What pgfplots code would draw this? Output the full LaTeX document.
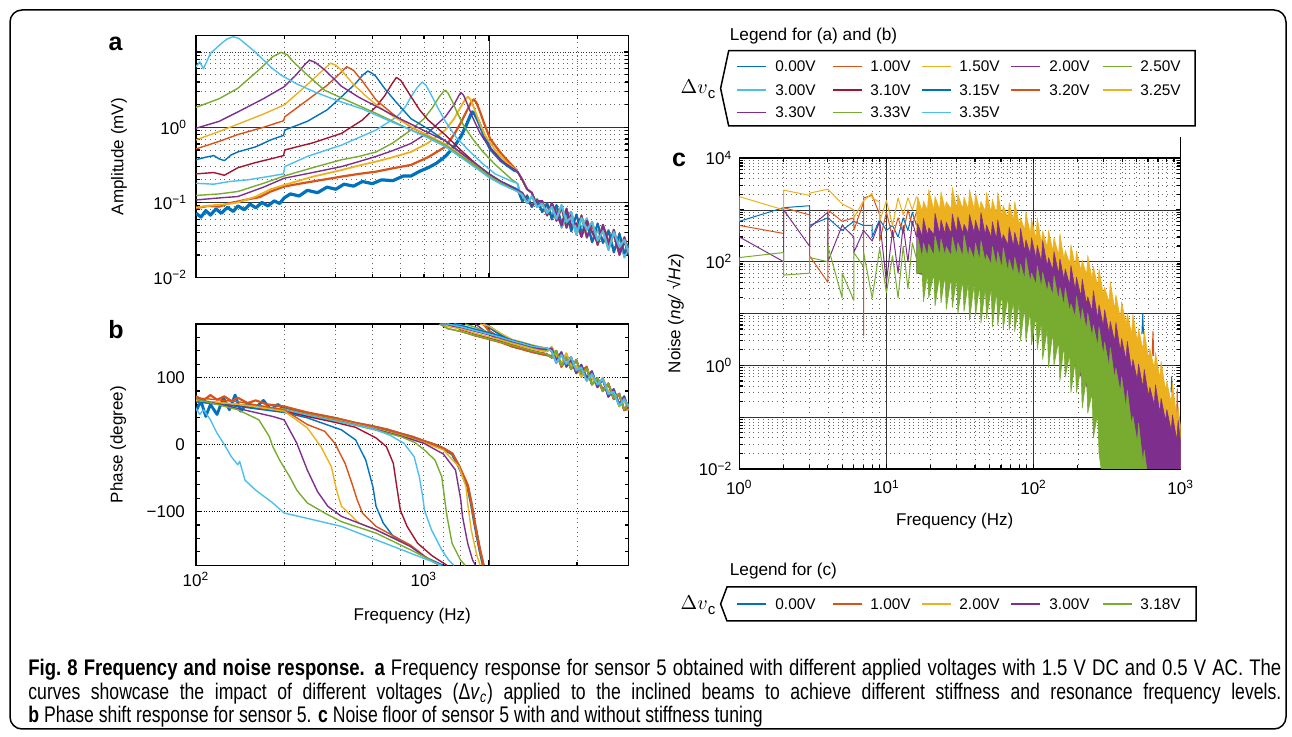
\documentclass[border=0pt]{standalone}
\usepackage{pgfplots}
\pgfplotsset{compat=1.18}
\usepackage{pgfplotstable}
\usepackage{fontspec}
\setmainfont{Liberation Sans}
\newfontfamily\capfont[FakeStretch=0.78]{Liberation Sans}
\newfontfamily\capfontA[FakeStretch=0.82]{Liberation Sans}
\definecolor{mb}{rgb}{0,0.447,0.741}
\definecolor{mo}{rgb}{0.85,0.325,0.098}
\definecolor{my}{rgb}{0.929,0.694,0.125}
\definecolor{mp}{rgb}{0.494,0.184,0.556}
\definecolor{mg}{rgb}{0.466,0.674,0.188}
\definecolor{mc}{rgb}{0.301,0.745,0.933}
\definecolor{mr}{rgb}{0.635,0.078,0.184}
\newcommand{\legfont}{\fontsize{7.7}{9}\selectfont}
\newcommand{\legent}[5]{\draw[#1, line width=0.65pt] (#2,#4) -- ++(29,0); \node[anchor=west, inner sep=0pt, font=\legfont] at (#3,#4) {#5};}
\pgfplotstableread{
f t1 t2 t3 t4 t5
1250 0.26 0.15 0.14 0.18 0.145
1300 0.2 0.103 0.1264 0.1076 0.1346
1350 0.15 0.1243 0.0981 0.1199 0.1036
1400 0.135 0.0877 0.1204 0.0867 0.0918
1460 0.0921 0.1086 0.0868 0.1114 0.1038
1520 0.1 0.0745 0.0964 0.0788 0.1051
1580 0.0672 0.0984 0.0722 0.0886 0.0697
1640 0.095 0.0593 0.0874 0.0684 0.0988
1700 0.057 0.0926 0.0605 0.0854 0.0712
1770 0.0858 0.0528 0.0924 0.0462 0.0495
1840 0.0461 0.0769 0.0554 0.0677 0.083
1910 0.069 0.0414 0.0633 0.0748 0.0489
1990 0.0426 0.0692 0.0372 0.0426 0.0532
2070 0.0668 0.0396 0.0619 0.047 0.0347
2160 0.0342 0.0547 0.0433 0.0616 0.057
2250 0.0529 0.0296 0.055 0.0296 0.0402
2350 0.0273 0.0527 0.0312 0.0429 0.0293
2450 0.0471 0.029 0.0416 0.0308 0.0507
2560 0.0267 0.0418 0.0234 0.0434 0.0301
2670 0.0434 0.0217 0.0403 0.0233 0.0372
2790 0.0215 0.0386 0.0257 0.0343 0.02
2900 0.0345 0.0212 0.0318 0.0186 0.0305
3000 0.0224 0.0274 0.0212 0.0249 0.0199
}\ampTail
\pgfplotstableread{
f p1 p2 p3 p4 p5
1580 142 135 144 133 139
1640 143.6 129.6 139.6 132.6 145.6
1700 126 140 122 138 132
1770 138 118 134 116 121
1840 116.2 130.2 120.2 128.2 136.2
1910 126.5 112.5 130.5 129.5 116.5
1990 106.5 126.5 110.5 108.5 117.5
2070 119.2 105.2 115.2 109.2 101.2
2160 99.3 113.3 95.3 116.3 112.3
2250 109.6 89.6 105.6 90.6 100.6
2350 85.6 99.6 89.6 96.6 85.6
2450 97.8 79.8 97.8 82.8 99.8
2560 71.4 91.4 75.4 90.4 78.4
2670 82.9 68.9 78.9 67.9 81.9
2790 60.1 76.1 58.1 74.1 57.1
2900 72.2 52.2 68.2 51.2 67.2
3000 53 61 57 54 51
}\phTail
\pgfplotsset{
  mat/.style={scale only axis, axis line style={line width=0.75pt},
    tick align=inside, xtick pos=both, ytick pos=both,
    major tick length=2.6pt, minor tick length=1.8pt,
    every tick/.style={black, line width=0.6pt},
    tick label style={font=\fontsize{8.5}{10}\selectfont},
    label style={font=\fontsize{8.5}{10}\selectfont},
    major grid style={line width=0.3pt, black!80},
    minor grid style={line width=0.35pt, dotted, black!60},
    every axis plot/.append style={line join=round, line width=0.7pt}},
  tail/.style={line width=0.9pt},
}
\begin{document}
\begin{tikzpicture}
\useasboundingbox (0pt,0pt) rectangle (646pt,-368.5pt);

% ---------------- panel a ----------------
\begin{axis}[mat, at={(98pt,-17.85pt)}, anchor=north west, width=216.35pt, height=121pt,
  xmode=log, ymode=log, xmin=100, xmax=3000, ymin=0.01, ymax=16.5,
  xtick={1000}, xticklabels={}, minor xtick={200,300,400,500,600,700,800,900,2000},
  ytick={0.01,0.1,1}, yticklabels={10\textsuperscript{−2},10\textsuperscript{−1},10\textsuperscript{0}},
  minor ytick={0.02,0.03,0.04,0.05,0.06,0.07,0.08,0.09,0.2,0.3,0.4,0.5,0.6,0.7,0.8,0.9,2,3,4,5,6,7,8,9},
  extra y ticks={10}, extra y tick labels={}, extra y tick style={grid=major, major grid style={densely dotted, black!80, line width=0.4pt}},
  xmajorgrids, ymajorgrids, xminorgrids, yminorgrids,
  ylabel={Amplitude (mV)}, ylabel style={at={(axis description cs:-0.178,0.5)}, anchor=center},
  yticklabel style={xshift=-1pt}]
\addplot[mb, line width=1.6pt] coordinates {(100,0.072)(104,0.064)(108,0.078)(112,0.068)(117,0.082)(122,0.072)(128,0.086)(134,0.076)(139,0.09)(146,0.08)(153,0.095)(160,0.085)(168,0.1)(176,0.09)(185,0.105)(193,0.097)(200,0.115)(210,0.13)(225,0.122)(240,0.145)(260,0.135)(280,0.16)(300,0.15)(320,0.175)(345,0.165)(370,0.19)(400,0.178)(430,0.2)(470,0.195)(510,0.225)(542,0.225)(580,0.26)(620,0.29)(660,0.33)(710,0.41)(760,0.55)(802,0.75)(840,1.1)(865,1.45)(878,1.6)(895,1.5)(920,1.2)(960,0.8)(1010,0.52)(1100,0.36)(1218,0.27)(1250,0.26)};
\addplot[mb, tail] table[x=f,y=t1]{\ampTail};
\addplot[mo, line width=1.1pt] coordinates {(100,0.084)(110,0.09)(120,0.088)(130,0.098)(139,0.103)(150,0.11)(165,0.118)(180,0.14)(200,0.163)(230,0.18)(260,0.195)(314,0.221)(360,0.24)(412,0.257)(470,0.285)(542,0.316)(620,0.4)(710,0.55)(760,0.8)(802,1.15)(840,1.65)(870,2.15)(887,2.35)(905,2.15)(930,1.65)(965,1.1)(1010,0.7)(1100,0.45)(1200,0.31)(1250,0.26)};
\addplot[mo, tail] table[x=f,y=t1]{\ampTail};
\addplot[my, line width=0.9pt] coordinates {(100,0.086)(115,0.092)(130,0.096)(139,0.1)(160,0.12)(180,0.15)(200,0.171)(250,0.22)(314,0.27)(360,0.31)(412,0.35)(470,0.4)(542,0.47)(620,0.62)(710,0.92)(760,1.3)(800,1.85)(830,2.35)(847,2.55)(865,2.35)(890,1.8)(925,1.2)(970,0.78)(1050,0.5)(1150,0.34)(1250,0.26)};
\addplot[my, tail] table[x=f,y=t1]{\ampTail};
\addplot[mp] coordinates {(100,0.108)(120,0.115)(139,0.12)(170,0.16)(200,0.21)(250,0.25)(314,0.3)(360,0.35)(412,0.41)(470,0.49)(542,0.61)(620,0.85)(710,1.38)(760,2.0)(790,2.65)(802,2.9)(820,2.65)(845,2.0)(880,1.35)(930,0.85)(1000,0.55)(1100,0.36)(1250,0.26)};
\addplot[mp, tail] table[x=f,y=t1]{\ampTail};
\addplot[mg] coordinates {(100,0.124)(120,0.13)(139,0.14)(170,0.18)(200,0.225)(250,0.29)(314,0.37)(360,0.41)(412,0.47)(470,0.62)(542,0.92)(600,1.3)(640,1.8)(675,2.5)(700,3.0)(710,3.1)(725,2.85)(750,2.2)(780,1.55)(820,1.05)(880,0.7)(950,0.48)(1050,0.32)(1200,0.2)(1250,0.18)};
\addplot[mg, tail] table[x=f,y=t4]{\ampTail};
\addplot[mc] coordinates {(100,0.18)(115,0.175)(130,0.19)(150,0.2)(175,0.22)(199,0.24)(201,0.3)(240,0.41)(314,0.58)(412,0.92)(485,1.38)(520,1.9)(542,2.55)(570,3.4)(592,4.0)(610,3.6)(635,2.7)(670,1.8)(710,1.2)(770,0.75)(850,0.5)(950,0.33)(1050,0.24)(1200,0.19)(1250,0.18)};
\addplot[mc, tail] table[x=f,y=t4]{\ampTail};
\addplot[mr] coordinates {(100,0.24)(115,0.25)(125,0.23)(139,0.29)(160,0.34)(180,0.38)(199,0.42)(201,0.5)(250,0.62)(314,0.83)(370,1.25)(412,1.88)(440,2.6)(465,3.7)(483,4.6)(500,4.2)(520,3.3)(542,2.55)(580,1.7)(620,1.25)(710,0.79)(800,0.5)(900,0.33)(1000,0.24)(1100,0.19)(1250,0.15)};
\addplot[mr, tail] table[x=f,y=t2]{\ampTail};
\addplot[mb] coordinates {(100,0.37)(108,0.4)(115,0.42)(120,0.38)(125,0.36)(132,0.43)(139,0.47)(160,0.55)(180,0.68)(199,0.78)(201,0.92)(240,1.2)(280,1.7)(314,2.55)(350,3.8)(370,4.9)(386,5.6)(400,5.2)(412,4.7)(440,3.3)(480,2.2)(542,1.3)(620,0.95)(710,0.66)(800,0.46)(900,0.32)(1000,0.24)(1100,0.19)(1250,0.15)};
\addplot[mb, tail] table[x=f,y=t2]{\ampTail};
\addplot[mo] coordinates {(100,0.515)(120,0.65)(139,0.8)(170,1.0)(199,1.22)(201,1.38)(240,2.3)(280,3.6)(305,4.9)(327,6.4)(345,5.7)(370,4.1)(412,2.3)(470,1.5)(542,1.0)(620,0.78)(710,0.58)(800,0.42)(900,0.3)(1000,0.225)(1100,0.18)(1250,0.145)};
\addplot[mo, tail] table[x=f,y=t5]{\ampTail};
\addplot[my] coordinates {(100,0.68)(120,0.88)(139,1.1)(170,1.5)(200,1.98)(240,3.7)(265,5.3)(288,7.1)(300,6.7)(314,5.7)(345,3.7)(380,2.6)(412,2.0)(470,1.4)(542,1.02)(620,0.78)(710,0.6)(800,0.43)(900,0.31)(1000,0.225)(1100,0.18)(1250,0.14)};
\addplot[my, tail] table[x=f,y=t3]{\ampTail};
\addplot[mp] coordinates {(100,0.97)(120,1.2)(139,1.6)(170,2.4)(200,3.46)(220,5.0)(235,6.8)(244,7.8)(255,7.3)(275,5.8)(314,3.5)(360,2.5)(412,1.9)(470,1.45)(542,1.1)(620,0.85)(710,0.66)(800,0.46)(900,0.33)(1000,0.24)(1100,0.19)(1250,0.145)};
\addplot[mp, tail] table[x=f,y=t5]{\ampTail};
\addplot[mg] coordinates {(100,1.84)(120,2.4)(139,3.3)(164,5.8)(183,8.7)(195,9.9)(205,9.2)(215,7.4)(240,4.95)(275,3.1)(314,2.45)(412,1.53)(542,0.92)(620,0.75)(710,0.58)(800,0.42)(900,0.31)(1000,0.225)(1100,0.18)(1250,0.14)};
\addplot[mg, tail] table[x=f,y=t3]{\ampTail};
\addplot[mc] coordinates {(100,6.4)(103,7.4)(106,6.0)(112,9.6)(122,13)(128,15)(134,16)(140,15.2)(147,13)(158,10.3)(168,8.2)(180,6.3)(195,4.95)(220,3.8)(253,2.97)(300,2.3)(370,1.75)(450,1.25)(542,0.92)(620,0.72)(710,0.55)(800,0.4)(900,0.29)(1000,0.215)(1100,0.175)(1250,0.14)};
\addplot[mc, tail] table[x=f,y=t3]{\ampTail};
\end{axis}

% ---------------- panel b ----------------
\begin{axis}[mat, at={(98pt,-162pt)}, anchor=north west, width=216.25pt, height=120.65pt,
  xmode=log, xmin=100, xmax=3000, ymin=-180, ymax=180, unbounded coords=jump,
  xtick={1000}, xticklabels={}, minor xtick={200,300,400,500,600,700,800,900,2000},
  extra x ticks={100,600}, extra x tick labels={10\textsuperscript{2},10\textsuperscript{3}}, extra x tick style={grid=none},
  ytick={-100,0,100}, yticklabels={−100,0,100},
  minor ytick={-160,-140,-120,-80,-60,-40,-20,20,40,60,80,120,140,160},
  extra y ticks={-100,0,100}, extra y tick labels={}, extra y tick style={grid=major, major grid style={densely dotted, black, line width=0.4pt}},
  xmajorgrids, xminorgrids,
  ylabel={Phase (degree)}, ylabel style={at={(axis description cs:-0.18,0.5)}, anchor=center},
  xlabel={Frequency (Hz)}, xlabel style={at={(axis description cs:0.5,-0.21)}, anchor=center},
  yticklabel style={xshift=-2pt}]
\addplot[mb, line width=1.4pt] coordinates {(100,50)(104,65)(108,42)(112,60)(118,45)(124,70)(130,52)(136,74)(142,50)(150,62)(160,55)(170,66)(180,52)(190,60)(200,54)(240,47)(300,39)(350,32)(400,27)(450,22)(500,16)(550,11)(600,5)(650,0)(700,-6)(750,-14)(791,-33)(847,-63)(871,-88)(894,-117)(931,-157)(957,-180)(957,nan)(957,180)(1000,176)(1100,164)(1200,155)(1300,151)(1400,147)(1500,144)(1580,142)};
\addplot[mb, tail] table[x=f,y=p1]{\phTail};
\addplot[mo, line width=1.1pt] coordinates {(100,72)(106,66)(112,74)(118,67)(125,72)(132,65)(139,70)(150,62)(160,66)(175,60)(200,57)(240,48)(300,39.5)(350,32.5)(400,27.5)(450,22.5)(500,16.5)(550,11.5)(600,5.5)(650,0.5)(700,-5.5)(750,-13)(791,-31)(847,-60)(871,-86)(894,-115)(931,-155)(960,-180)(960,nan)(960,180)(1000,170)(1100,158)(1200,149)(1300,144)(1400,140)(1500,137)(1580,135)};
\addplot[mo, tail] table[x=f,y=p2]{\phTail};
\addplot[my] coordinates {(100,66)(139,60)(200,53)(240,45)(300,37)(400,25)(500,14)(600,3)(700,-8)(791,-33)(836,-63)(847,-88)(871,-127)(910,-165)(935,-180)(935,nan)(935,180)(1000,177)(1100,166)(1200,157)(1300,153)(1400,149)(1500,146)(1580,144)};
\addplot[my, tail] table[x=f,y=p3]{\phTail};
\addplot[mp] coordinates {(100,65)(139,59)(200,52)(240,44)(300,36)(400,24)(500,13)(600,2)(700,-14)(770,-38)(802,-82)(813,-107)(847,-147)(880,-172)(900,-180)(900,nan)(900,180)(1000,165)(1100,154)(1200,146)(1300,142)(1400,138)(1500,135)(1580,133)};
\addplot[mp, tail] table[x=f,y=p4]{\phTail};
\addplot[mg] coordinates {(100,66)(139,60)(200,52)(240,44)(300,36)(400,23)(500,12)(560,3)(603,-8)(655,-23)(691,-48)(710,-88)(720,-107)(749,-147)(800,-172)(830,-180)(830,nan)(830,180)(900,175)(1000,167)(1100,159)(1200,152)(1300,148)(1400,144)(1500,141)(1580,139)};
\addplot[mg, tail] table[x=f,y=p5]{\phTail};
\addplot[mc] coordinates {(100,65)(139,59)(200,52)(240,44)(300,35)(400,24)(460,14)(513,2)(556,-18)(579,-48)(595,-78)(603,-98)(637,-127)(691,-157)(729,-172)(760,-180)(760,nan)(760,180)(800,179)(900,172)(1000,166)(1100,160)(1200,154)(1300,150)(1400,146)(1500,143)(1580,142)};
\addplot[mc, tail] table[x=f,y=p1]{\phTail};
\addplot[mr] coordinates {(100,64)(139,58)(200,50)(240,42)(300,33)(350,26)(412,10)(447,-3)(472,-28)(485,-63)(499,-98)(526,-122)(571,-147)(637,-165)(673,-172)(720,-180)(720,nan)(720,180)(800,172)(900,165)(1000,159)(1100,154)(1200,148)(1300,144)(1400,140)(1500,137)(1580,135)};
\addplot[mr, tail] table[x=f,y=p2]{\phTail};
\addplot[mb] coordinates {(100,64)(139,57)(200,48)(240,40)(314,22)(351,7)(380,-23)(402,-63)(412,-92)(436,-117)(472,-137)(541,-152)(603,-167)(660,-175)(700,-180)(700,nan)(700,180)(800,178)(900,172)(1000,167)(1100,162)(1200,156)(1300,152)(1400,148)(1500,145)(1580,144)};
\addplot[mb, tail] table[x=f,y=p3]{\phTail};
\addplot[mo] coordinates {(100,70)(139,64)(200,52)(240,30)(275,20)(298,2)(323,-28)(341,-58)(355,-82)(370,-102)(412,-122)(541,-150)(619,-170)(680,-180)(680,nan)(680,180)(725,173)(800,169)(900,162)(1000,157)(1100,152)(1200,146)(1300,142)(1400,138)(1500,135)(1580,133)};
\addplot[mo, tail] table[x=f,y=p4]{\phTail};
\addplot[my] coordinates {(100,66)(139,60)(200,50)(240,25)(267,-3)(290,-33)(302,-68)(314,-92)(360,-117)(412,-127)(541,-152)(619,-170)(680,-180)(680,nan)(680,180)(725,176)(800,173)(900,166)(1000,161)(1100,156)(1200,151)(1300,147)(1400,143)(1500,140)(1580,139)};
\addplot[my, tail] table[x=f,y=p5]{\phTail};
\addplot[mp] coordinates {(100,68)(139,54)(183,42)(200,37)(221,2)(240,-38)(260,-70)(282,-92)(314,-107)(412,-127)(541,-152)(619,-170)(680,-180)(680,nan)(680,180)(725,179)(800,175)(900,169)(1000,164)(1100,159)(1200,154)(1300,150)(1400,146)(1500,143)(1580,142)};
\addplot[mp, tail] table[x=f,y=p1]{\phTail};
\addplot[mg] coordinates {(100,68)(139,52)(164,37)(178,12)(183,-3)(193,-23)(209,-48)(221,-68)(240,-87)(275,-102)(314,-115)(412,-132)(541,-157)(619,-170)(680,-180)(680,nan)(680,180)(725,173)(800,169)(900,163)(1000,158)(1100,153)(1200,148)(1300,144)(1400,140)(1500,137)(1580,135)};
\addplot[mg, tail] table[x=f,y=p2]{\phTail};
\addplot[mc] coordinates {(100,54)(103,45)(106,52)(112,37)(118,17)(125,0)(132,-18)(139,-30)(141,-25)(147,-53)(160,-68)(183,-87)(200,-102)(240,-110)(314,-122)(412,-142)(541,-162)(619,-172)(690,-180)(690,nan)(690,180)(725,180)(800,176)(900,170)(1000,165)(1100,160)(1200,155)(1300,151)(1400,147)(1500,145)(1580,144)};
\addplot[mc, tail] table[x=f,y=p3]{\phTail};
\end{axis}

% ---------------- panel c ----------------
\begin{axis}[mat, at={(369.65pt,-79pt)}, anchor=north west, width=220.7pt, height=155.5pt,
  xmode=log, ymode=log, xmin=1, xmax=1000, ymin=0.01, ymax=10000,
  xtick={1,10,100,1000}, xticklabels={10\textsuperscript{0},10\textsuperscript{1},10\textsuperscript{2},10\textsuperscript{3}},
  minor xtick={2,3,4,5,6,7,8,9,20,30,40,50,60,70,80,90,200,300,400,500,600,700,800,900},
  ytick={0.01,1,100,10000}, yticklabels={10\textsuperscript{−2},10\textsuperscript{0},10\textsuperscript{2},10\textsuperscript{4}},
  minor ytick={0.02,0.03,0.04,0.05,0.06,0.07,0.08,0.09,0.2,0.3,0.4,0.5,0.6,0.7,0.8,0.9,2,3,4,5,6,7,8,9,20,30,40,50,60,70,80,90,200,300,400,500,600,700,800,900,2000,3000,4000,5000,6000,7000,8000,9000},
  extra y ticks={0.1,10,1000}, extra y tick labels={}, extra y tick style={grid=major},
  xmajorgrids, ymajorgrids, xminorgrids, yminorgrids,
  xticklabel style={yshift=-2pt},
  ylabel={Noise (\textit{ng/} √\textit{Hz})}, ylabel style={at={(axis description cs:-0.1445,0.5)}, anchor=center},
  xlabel={Frequency (Hz)}, xlabel style={at={(axis description cs:0.488,-0.169)}, anchor=center},
  every axis plot/.append style={line width=0.5pt}]
\addplot[mb] coordinates {(1,350)(1,600)(2,1100)(3,1200)(3,500)(4,700)(5,400)(6,600)(7,500)(8,500)(8,300)(9,650)(10,400)(11,500)(12,300)(13,700)(14,400)(15,900)(16,500)(17,800)(18,400)(19,900)(20,500)(22,800)(24,600)};
\addplot[mb] coordinates {(545,4)(552,10)(559,4)};
\addplot[mb] coordinates {(860,0.3)(868,0.6)(876,0.3)};
\addplot[mo] coordinates {(1,700)(1,500)(2,350)(2,1100)(3,800)(3,130)(4,40)(4,1000)(5,600)(6,700)(6,400)(7,1400)(7,3.8)(7,1700)(8,1900)(9,800)(9,250)(10,900)(11,300)(12,700)(13,350)(14,1000)(15,500)(16,900)(17,600)(18,1200)(19,500)(20,900)(22,600)(24,1000)};
\addplot[mo] coordinates {(640,1.5)(648,4.5)(656,1.5)};
\addplot[mo] coordinates {(940,0.1)(948,0.35)(956,0.1)};
\addplot[my] coordinates {(1,600)(1,1800)(2,1000)(2,2400)(3,1900)(3,2100)(4,2500)(5,1300)(6,1000)(6,700)(7,1500)(8,2100)(8,1700)(9,1400)(9,600)(10,1500)(11,500)(12,1700)(13,800)(14,1700)(15,1000)(16,1800)};
\addplot[my, fill=my, line width=0.3pt] coordinates {(16,900)(16.3,1800)(17.5,925)(17.85,1480)(19,975)(19.4,2440)(21,1000)(21.4,1800)(23,1015)(23.5,2230)(25,1025)(25.5,1435)(27.5,1040)(28.05,2700)(30,1050)(30.6,2000)(33,1035)(33.7,1760)(36,1020)(36.7,2450)(39.5,1000)(40.3,2100)(43,970)(43.9,1455)(47,935)(47.9,2150)(51.5,890)(52.5,1600)(56,825)(57.1,2145)(61,760)(62.2,1216)(67,685)(68.3,1370)(73,600)(74.5,1440)(80,500)(81.6,700)(87,410)(88.7,900)(95,345)(96.9,655)(104,280)(106,700)(113,230)(115.3,390)(124,190)(126.5,400)(135,160)(137.7,290)(148,135)(151,350)(161,110)(164.2,165)(176,92)(179.5,213)(192,80)(195.8,160)(210,68)(214.2,108)(229,55)(233.6,132)(250,45)(255,81)(273,33)(278.5,72)(298,23)(304,32)(326,16.5)(332.5,41)(356,12)(363,23)(389,8)(396.8,17)(425,6)(433.5,10)(464,4)(473.3,9.6)(507,2.85)(517,5.1)(554,2.0)(565,4.6)(605,1.3)(617,2.1)(661,0.88)(674,1.75)(722,0.55)(736,1.2)(789,0.33)(805,0.49)(862,0.19)(879,0.46)(942,0.09)(961,0.16)(1000,0.06)(1000,0.005)(900,0.017)(800,0.045)(700,0.1)(600,0.22)(500,0.55)(400,1.5)(350,3)(300,5.5)(250,11)(200,25)(150,55)(100,125)(80,175)(50,300)(30,350)(16,300)};
\addplot[mp] coordinates {(1,600)(1,300)(2,100)(2,1000)(3,200)(3,450)(4,900)(4,100)(5,500)(6,300)(6,150)(7,400)(8,250)(9,600)(10,40)(11,400)(12,60)(13,500)(14,100)(15,600)(16,300)};
\addplot[mp, fill=mp, line width=0.3pt] coordinates {(16,300)(16.3,540)(17.5,310)(17.85,680)(19,320)(19.4,450)(21,328)(21.4,850)(23,335)(23.5,640)(25,340)(25.5,580)(27.5,345)(28.05,830)(30,350)(30.6,735)(33,350)(33.7,525)(36,350)(36.7,805)(39.5,350)(40.3,630)(43,340)(43.9,885)(47,320)(47.9,510)(51.5,295)(52.5,590)(56,265)(57.1,636)(61,238)(62.2,333)(67,210)(68.3,462)(73,193)(74.5,366)(80,175)(81.6,438)(87,155)(88.7,264)(95,138)(96.9,289)(104,115)(106,207)(113,98)(115.3,254)(124,80)(126.5,120)(135,68)(137.7,155)(148,57)(151,113)(161,45)(164.2,72)(176,35)(179.5,84)(192,28)(195.8,50)(210,21)(214.2,46)(229,15)(233.6,21)(250,11)(255,27.5)(273,7.8)(278.5,14.7)(298,5.6)(304,11.8)(326,4.1)(332.5,7.0)(356,2.8)(363,6.7)(389,1.85)(396.8,3.3)(425,1.25)(433.5,2.9)(464,0.8)(473.3,1.3)(507,0.52)(517,1.05)(554,0.37)(565,0.83)(605,0.25)(617,0.38)(661,0.17)(674,0.42)(722,0.12)(736,0.23)(789,0.085)(805,0.14)(862,0.055)(879,0.11)(942,0.035)(961,0.088)(1000,0.03)(1000,0.005)(600,0.005)(350,0.008)(300,0.05)(250,0.25)(200,0.8)(150,3)(100,8)(80,15)(50,30)(30,40)(16,60)};
\addplot[mg] coordinates {(1,80)(1,120)(2,150)(2,55)(3,60)(3,120)(4,100)(4,200)(5,20)(5,60)(6,18)(6,150)(7,80)(7,150)(8,20)(9,180)(10,25)(11,130)(12,20)(13,200)(14,30)(15,230)(16,115)};
\addplot[mg, fill=mg, line width=0.3pt] coordinates {(16,115)(16.3,300)(17.5,120)(17.85,228)(19,128)(19.4,217)(21,130)(21.4,312)(23,130)(23.5,273)(25,130)(25.5,195)(27.5,130)(28.05,300)(30,130)(30.6,234)(33,125)(33.7,325)(36,119)(36.7,190)(39.5,112)(40.3,225)(43,105)(43.9,252)(47,98)(47.9,137)(51.5,89)(52.5,195)(56,83)(57.1,157)(61,74)(62.2,185)(67,65)(68.3,110)(73,58)(74.5,121)(80,50)(81.6,90)(87,46)(88.7,120)(95,40)(96.9,60)(104,36)(106,82)(113,31)(115.3,62)(124,26)(126.5,41)(135,22)(137.7,53)(148,18)(151,32)(161,14)(164.2,31)(176,11)(179.5,15.4)(192,8.5)(195.8,21)(210,6.5)(214.2,12.4)(229,4.8)(233.6,10)(250,3.5)(255,6)(273,2.3)(278.5,5.5)(298,1.55)(304,2.8)(326,0.95)(332.5,2.2)(356,0.55)(363,0.88)(389,0.3)(396.8,0.6)(425,0.15)(433.5,0.33)(464,0.07)(473.3,0.105)(507,0.032)(517,0.076)(554,0.013)(565,0.023)(605,0.0055)(617,0.006)(617,0.005)(298,0.005)(278.5,0.02)(273,0.12)(255,0.04)(250,0.3)(233.6,0.12)(229,0.6)(214.2,0.15)(210,0.9)(195.8,0.3)(192,1.2)(179.5,0.3)(176,1.6)(164.2,0.6)(161,2.5)(151,0.5)(148,3)(137.7,1.0)(135,4.5)(126.5,0.9)(124,5)(115.3,1.3)(113,7)(106,2.0)(104,9)(96.9,2.5)(95,11)(88.7,3)(87,14)(81.6,3)(80,16)(74.5,4.5)(73,18)(68.3,4.8)(67,22)(62.2,5)(61,25)(57.1,6)(56,28)(52.5,5.5)(51.5,30)(47.9,8)(47,32)(43.9,6.5)(43,35)(40.3,9)(39.5,38)(36.7,7.5)(36,40)(33.7,11)(33,45)(30.6,10)(30,48)(28.05,13)(27.5,50)(25.5,12)(25,55)(23.5,16)(23,55)(21.4,14)(21,60)(19.4,20)(19,60)(17.85,17)(17.5,60)(16,60)};
\end{axis}

\begin{scope}[x=0.5pt, y=-0.5pt]
% outer frame
\draw[line width=0.75pt, rounded corners=6pt] (10,10) rectangle (1286,729);
% panel letters
\node[font=\fontsize{12.5}{14}\selectfont\bfseries] at (115.5,44) {a};
\node[font=\fontsize{12.5}{14}\selectfont\bfseries] at (116,330) {b};
\node[font=\fontsize{12.5}{14}\selectfont\bfseries] at (679,160) {c};
% line above panel c
\draw[line width=0.75pt] (1180.7,137) -- (1180.7,158);
% legend (a)(b)
\node[anchor=west, inner sep=0pt, font=\fontsize{8.6}{10}\selectfont] at (729.5,36) {Legend for (a) and (b)};
\draw[line width=0.75pt] (728.7,50.7) -- (1195,50.7) -- (1195,126) -- (728.7,126) -- (720.6,88.4) -- cycle;
\node[font=\fontsize{10}{12}\selectfont] at (698,89) {$\Delta v$\raisebox{-0.45ex}{\fontsize{7.5}{8}\selectfont c}};
\legent{mb}{736.7}{775}{66.7}{0.00V}
\legent{mo}{832.9}{870}{66.7}{1.00V}
\legent{my}{921.7}{959}{66.7}{1.50V}
\legent{mp}{1011}{1049}{66.7}{2.00V}
\legent{mg}{1103}{1140}{66.7}{2.50V}
\legent{mc}{736.7}{775}{90}{3.00V}
\legent{mr}{832.9}{870}{90}{3.10V}
\legent{mb}{921.7}{959}{90}{3.15V}
\legent{mo}{1011}{1049}{90}{3.20V}
\legent{my}{1103}{1140}{90}{3.25V}
\legent{mp}{736.7}{775}{112.7}{3.30V}
\legent{mg}{832.9}{870}{112.7}{3.33V}
\legent{mc}{921.7}{959}{112.7}{3.35V}
% legend (c)
\node[anchor=west, inner sep=0pt, font=\fontsize{8.6}{10}\selectfont] at (729.5,571) {Legend for (c)};
\draw[line width=0.75pt] (727,587) -- (1196,587) -- (1196,621) -- (727,621) -- (720.6,604) -- cycle;
\node[font=\fontsize{10}{12}\selectfont] at (698,605) {$\Delta v$\raisebox{-0.45ex}{\fontsize{7.5}{8}\selectfont c}};
\legent{mb}{736.7}{775}{604}{0.00V}
\legent{mo}{832.9}{870}{604}{1.00V}
\legent{my}{921.7}{959}{604}{2.00V}
\legent{mp}{1011}{1049}{604}{3.00V}
\legent{mg}{1103}{1140}{604}{3.18V}
% caption
\node[anchor=north west, inner sep=0pt] at (28,659) {\begin{minipage}[t]{626.5pt}\fontsize{11.3}{11.75}\capfontA\selectfont\parindent=0pt
{\bfseries Fig.~8 Frequency and noise response.} {\bfseries a} Frequency response for sensor 5 obtained with different applied voltages with 1.5 V DC and 0.5 V AC. The\linebreak
\capfont curves showcase the impact of different voltages (Δ\textit{v}\textsubscript{\textit{c}}) applied to the inclined beams to achieve different stiffness and resonance frequency levels.\linebreak
{\bfseries b} Phase shift response for sensor 5. {\bfseries c} Noise floor of sensor 5 with and without stiffness tuning\end{minipage}};
\end{scope}
\end{tikzpicture}
\end{document}
